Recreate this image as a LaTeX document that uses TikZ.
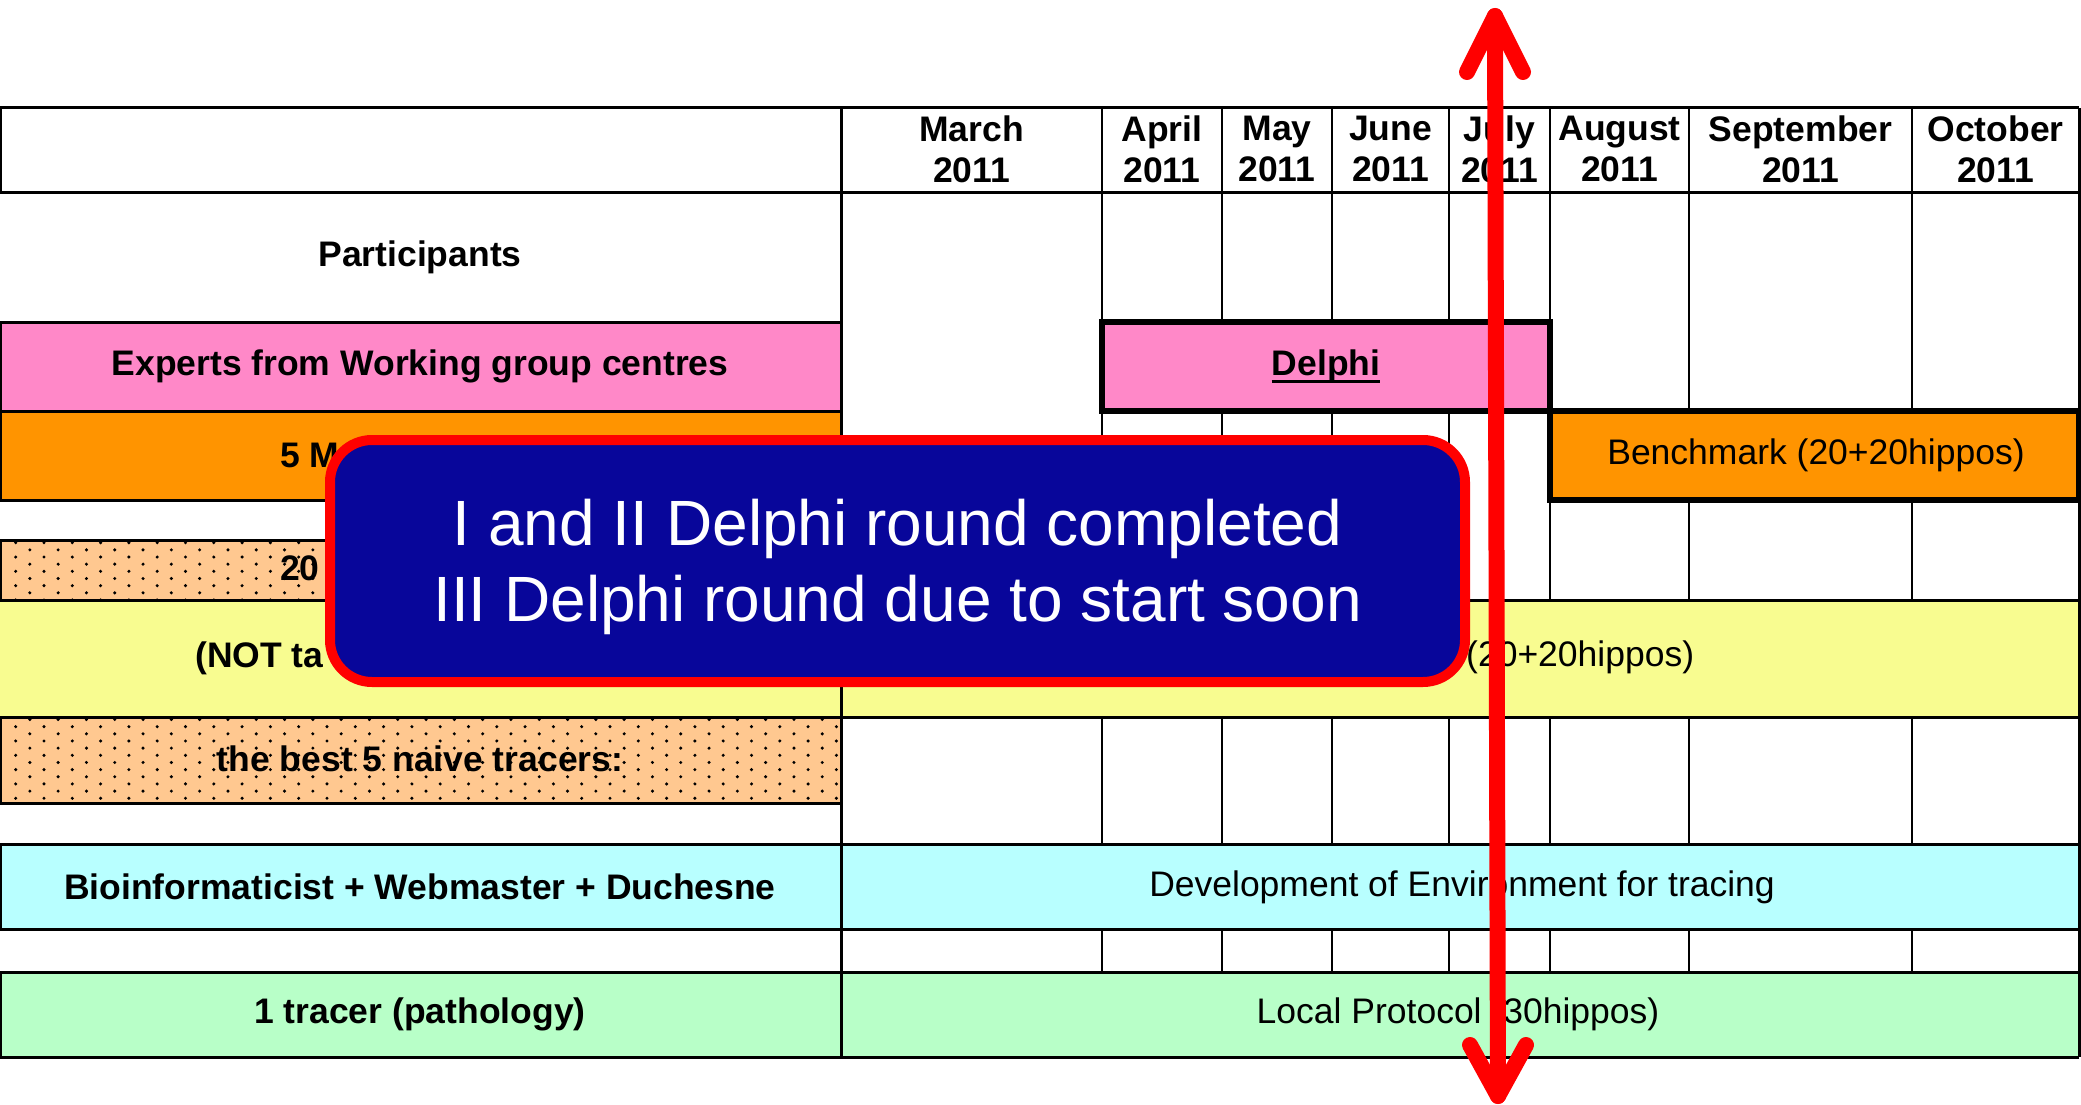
\documentclass[tikz,border=0pt]{standalone}
\usepackage{fontspec}
\setmainfont{Liberation Sans}
\definecolor{pinkc}{HTML}{FF88C8}
\definecolor{orangec}{HTML}{FF9400}
\definecolor{peachc}{HTML}{FFC890}
\definecolor{yellowc}{HTML}{F8FC90}
\definecolor{cyanc}{HTML}{B8FFFF}
\definecolor{greenc}{HTML}{B8FFC8}
\definecolor{navyc}{HTML}{08069A}
\begin{document}
\begin{tikzpicture}[x=1pt,y=-1pt,
  gridln/.style={line width=2.5pt},
  outerln/.style={line width=3pt},
  thickbox/.style={line width=5.5pt},
  blbl/.style={font=\fontsize{35.5}{41}\selectfont\bfseries, inner sep=0pt, align=center},
  rlbl/.style={font=\fontsize{35.5}{41}\selectfont, inner sep=0pt, align=center},
  callout/.style={draw=red, fill=navyc, line width=10pt, rounded corners=42pt,
    minimum width=1135pt, minimum height=242pt, inner sep=0pt},
  callouttext/.style={text=white, inner sep=0pt, font=\fontsize{64}{76}\selectfont, align=center},
  redarr/.style={draw=red, line width=16pt, line cap=round, line join=round},
  dot/.style={fill=black}]
\useasboundingbox (0,0) rectangle (2081,1105);
\fill[white] (0,0) rectangle (2081,1105);
% fills
\fill[pinkc] (0,322) rectangle (841,411);
\fill[orangec] (0,411) rectangle (841,500);
\fill[peachc] (0,540) rectangle (841,600);
\fill[yellowc] (0,600) rectangle (2079,717);
\fill[peachc] (0,717) rectangle (841,803);
\fill[cyanc] (0,844) rectangle (2079,929);
\fill[greenc] (0,972) rectangle (2079,1057);
\fill[pinkc] (1102,322) rectangle (1550,411);
\fill[orangec] (1550,411) rectangle (2079,500);
% texts in peach rows (under dots)
\node[blbl, anchor=west] (tw) at (280,568) {20};
\node[blbl] (best) at (420,759) {the best 5 naive tracers:};
% dots
\begin{scope}
\clip (0,540) rectangle (841,600);
\foreach \j in {0,...,8}{
  \foreach \i in {0,...,29}{
    \fill[dot] ({15.7+28.3*\i+14.15*mod(\j,2)},{542.7+7.16*\j}) circle[radius=1.7pt];
  }
}
\end{scope}
\begin{scope}
\clip (0,717) rectangle (841,803);
\foreach \j in {0,...,11}{
  \foreach \i in {0,...,29}{
    \fill[dot] ({15.7+28.3*\i+14.15*(1-mod(\j,2))},{719.5+7.16*\j}) circle[radius=1.7pt];
  }
}
\end{scope}
% horizontal lines
\foreach \y in {108,192,600,717,844,929,972,1057}{
  \draw[outerln] (0,\y) -- (2079,\y);
}
\foreach \y in {322,411,500,540,803}{
  \draw[outerln] (0,\y) -- (841,\y);
}
% vertical lines
\draw[outerln] (0,108) -- (0,192);
\draw[outerln] (0,322) -- (0,500);
\draw[outerln] (0,540) -- (0,600);
\draw[outerln] (0,717) -- (0,803);
\draw[outerln] (0,844) -- (0,929);
\draw[outerln] (0,972) -- (0,1057);
\draw[outerln] (841,108) -- (841,1057);
\draw[outerln] (2079,108) -- (2079,1057);
\foreach \x in {1102,1222,1332,1449}{
  \draw[gridln] (\x,108) -- (\x,322);
  \draw[gridln] (\x,411) -- (\x,600);
  \draw[gridln] (\x,717) -- (\x,844);
  \draw[gridln] (\x,929) -- (\x,972);
}
\draw[gridln] (1550,108) -- (1550,600);
\draw[gridln] (1550,717) -- (1550,844);
\draw[gridln] (1550,929) -- (1550,972);
\foreach \x in {1689,1912}{
  \draw[gridln] (\x,108) -- (\x,411);
  \draw[gridln] (\x,500) -- (\x,600);
  \draw[gridln] (\x,717) -- (\x,844);
  \draw[gridln] (\x,929) -- (\x,972);
}
% thick boxes
\draw[thickbox] (1102,322) rectangle (1550,411);
\draw[thickbox] (1550,411) rectangle (2079,500);
% header
\node[blbl] (mar) at (971.5,149) {March\\2011};
\node[blbl] (apr) at (1162,149) {April\\2011};
\node[blbl] (may) at (1277,149) {May\\2011};
\node[blbl] (jun) at (1390.5,149) {June\\2011};
\node[blbl] (jul) at (1499.5,149) {July\\2011};
\node[blbl] (aug) at (1619.5,149) {August\\2011};
\node[blbl] (sep) at (1800.5,149) {September\\2011};
\node[blbl] (oct) at (1995.5,149) {October\\2011};
% left column
\node[blbl] (part) at (420,257) {Participants};
\node[blbl] (exp) at (420,366) {Experts from Working group centres};
\node[blbl, anchor=west] (five) at (280,455) {5 M};
\node[blbl, anchor=west] (nota) at (195,658) {(NOT ta};
\node[blbl] (bio) at (420,887) {Bioinformaticist + Webmaster + Duchesne};
\node[blbl] (one) at (420,1014) {1 tracer (pathology)};
% month area
\node[blbl] (del) at (1326,366) {Delphi};
\draw[line width=3pt] ([yshift=-6pt]del.base west) -- ([yshift=-6pt]del.base east);
\node[rlbl] (bench) at (1816,455) {Benchmark (20+20hippos)};
\node[rlbl, anchor=west] (hip) at (1466,657) {(20+20hippos)};
\node[rlbl] (dev) at (1462,887) {Development of Environment for tracing};
\node[rlbl] (loc) at (1458,1014) {Local Protocol (30hippos)};
% callout
\node[callout] (msg) at (897.5,561) {};
\node[callouttext] (msgtxt) at (897.5,567) {I and II Delphi round completed\\III Delphi round due to start soon};
% red arrow
\coordinate (atop) at (1495,16);
\coordinate (abot) at (1498,1096);
\coordinate (tl) at (1467,72);
\coordinate (tr) at (1523,72);
\coordinate (bl) at (1470,1045);
\coordinate (br) at (1526,1045);
\draw[redarr] (atop) -- (abot);
\draw[redarr] (tl) -- (atop) -- (tr);
\draw[redarr] (bl) -- (abot) -- (br);
\end{tikzpicture}
\end{document}
